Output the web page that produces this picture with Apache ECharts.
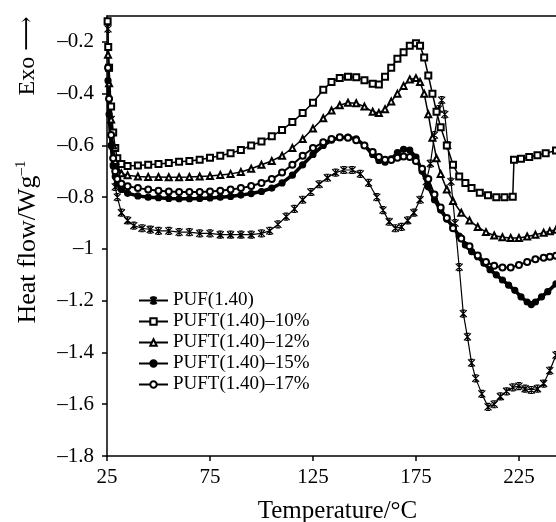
<!DOCTYPE html>
<html>
<head>
<meta charset="utf-8">
<script src="https://cdn.jsdelivr.net/npm/echarts@6/dist/echarts.min.js"></script>
<style>
  html, body { margin: 0; padding: 0; background: #fff; }
  #chart { width: 556px; height: 522px; }
</style>
</head>
<body>
<div id="chart"></div>
<script>
// 图例名称
const seriesNames = ['PUF(1.40)', 'PUFT(1.40)–10%', 'PUFT(1.40)–12%', 'PUFT(1.40)–15%', 'PUFT(1.40)–17%'];

// 各曲线数据 [温度 °C, 热流 W/g]
const puf = [[25.5,-0.15],[26,-0.3],[27,-0.5],[28,-0.66],[29,-0.76],[30,-0.8],[32,-0.86],[35,-0.89],[38,-0.91],[42,-0.92],[46,-0.925],[50,-0.93],[55,-0.93],[60,-0.935],[65,-0.935],[70,-0.94],[75,-0.94],[80,-0.945],[85,-0.945],[90,-0.945],[95,-0.945],[100,-0.94],[104,-0.93],[108,-0.905],[112,-0.875],[116,-0.845],[120,-0.81],[124,-0.78],[128,-0.75],[132,-0.725],[136,-0.705],[140,-0.695],[144,-0.695],[148,-0.71],[152,-0.745],[156,-0.8],[159,-0.85],[162,-0.895],[165,-0.92],[168,-0.915],[171,-0.89],[174,-0.86],[177,-0.81],[180,-0.74],[182,-0.67],[184,-0.56],[186,-0.46],[187.5,-0.425],[189,-0.48],[190.5,-0.6],[192,-0.74],[194,-0.9],[196,-1.07],[198,-1.25],[200,-1.34],[202,-1.44],[204,-1.5],[207,-1.56],[210,-1.61],[213,-1.6],[216,-1.57],[219,-1.55],[222,-1.535],[225,-1.53],[228,-1.54],[231,-1.545],[234,-1.54],[237,-1.52],[240,-1.47],[243,-1.41]];

const puft10 = [[25.3,-0.12],[25.6,-0.22],[26,-0.3],[27,-0.45],[28,-0.55],[29,-0.61],[30,-0.65],[32,-0.672],[35,-0.68],[40,-0.678],[45,-0.675],[50,-0.672],[55,-0.668],[60,-0.663],[65,-0.66],[70,-0.655],[75,-0.648],[80,-0.64],[85,-0.63],[90,-0.618],[95,-0.6],[100,-0.585],[105,-0.565],[110,-0.54],[115,-0.51],[120,-0.475],[125,-0.435],[130,-0.385],[134,-0.355],[138,-0.34],[142,-0.335],[146,-0.337],[150,-0.348],[154,-0.362],[157,-0.365],[160,-0.335],[163,-0.3],[166,-0.265],[169,-0.24],[172,-0.215],[175,-0.205],[177,-0.215],[179,-0.26],[181,-0.33],[183,-0.4],[185,-0.47],[187,-0.53],[190,-0.6],[193,-0.675],[196,-0.72],[199,-0.745],[202,-0.765],[206,-0.783],[210,-0.793],[214,-0.8],[218,-0.8],[222,-0.798],[222.6,-0.655],[226,-0.652],[230,-0.645],[234,-0.638],[238,-0.63],[243,-0.62]];

const puft12 = [[25.5,-0.25],[26,-0.36],[27,-0.5],[28,-0.6],[29,-0.66],[30,-0.69],[32,-0.708],[35,-0.715],[40,-0.72],[45,-0.722],[50,-0.722],[55,-0.723],[60,-0.723],[65,-0.722],[70,-0.72],[75,-0.718],[80,-0.714],[85,-0.71],[90,-0.703],[95,-0.69],[100,-0.675],[105,-0.66],[110,-0.64],[115,-0.61],[120,-0.575],[125,-0.535],[130,-0.495],[134,-0.465],[138,-0.445],[142,-0.435],[146,-0.437],[150,-0.45],[154,-0.47],[157,-0.475],[160,-0.46],[163,-0.43],[166,-0.4],[169,-0.37],[172,-0.345],[175,-0.34],[177,-0.355],[179,-0.4],[181,-0.48],[183,-0.57],[185,-0.65],[187,-0.71],[190,-0.77],[193,-0.815],[197,-0.86],[201,-0.89],[205,-0.915],[209,-0.935],[213,-0.948],[217,-0.955],[221,-0.958],[225,-0.958],[229,-0.952],[233,-0.945],[237,-0.937],[240,-0.932],[243,-0.926]];

const puft15 = [[25.5,-0.35],[26,-0.48],[27,-0.6],[28,-0.68],[29,-0.72],[30,-0.75],[32,-0.77],[35,-0.785],[40,-0.795],[45,-0.8],[50,-0.802],[55,-0.805],[60,-0.806],[65,-0.806],[70,-0.805],[75,-0.803],[80,-0.8],[85,-0.797],[90,-0.792],[95,-0.786],[100,-0.778],[105,-0.765],[110,-0.745],[115,-0.715],[120,-0.675],[125,-0.635],[130,-0.6],[134,-0.58],[138,-0.57],[142,-0.568],[146,-0.575],[150,-0.6],[154,-0.635],[157,-0.658],[160,-0.665],[163,-0.652],[166,-0.628],[169,-0.615],[172,-0.618],[175,-0.645],[178,-0.7],[181,-0.76],[184,-0.81],[187,-0.85],[190,-0.885],[193,-0.915],[196,-0.95],[199,-0.985],[202,-1.01],[205,-1.03],[208,-1.055],[211,-1.08],[214,-1.1],[217,-1.12],[220,-1.14],[223,-1.16],[226,-1.185],[229,-1.205],[231,-1.215],[233,-1.205],[236,-1.185],[239,-1.165],[243,-1.135]];

const puft17 = [[25.5,-0.3],[26,-0.42],[27,-0.56],[28,-0.65],[29,-0.7],[30,-0.73],[32,-0.748],[35,-0.758],[40,-0.765],[45,-0.77],[50,-0.775],[55,-0.778],[60,-0.78],[65,-0.78],[70,-0.78],[75,-0.778],[80,-0.775],[85,-0.77],[90,-0.765],[95,-0.757],[100,-0.745],[105,-0.73],[110,-0.705],[115,-0.675],[120,-0.64],[125,-0.61],[130,-0.588],[134,-0.575],[138,-0.568],[142,-0.57],[146,-0.58],[150,-0.6],[154,-0.625],[157,-0.645],[160,-0.655],[163,-0.656],[166,-0.648],[169,-0.643],[172,-0.645],[175,-0.66],[178,-0.69],[181,-0.73],[184,-0.79],[187,-0.84],[190,-0.88],[193,-0.92],[197,-0.96],[201,-0.99],[205,-1.025],[209,-1.05],[213,-1.065],[217,-1.072],[221,-1.072],[225,-1.062],[229,-1.05],[233,-1.04],[237,-1.034],[240,-1.03],[243,-1.026]];

// 坐标轴范围
const xMin = 25, xMax = 243, xStep = 50;
const yMin = -1.8, yMax = -0.1, yStep = 0.2;

const FONT = '"Liberation Serif", "DejaVu Serif", serif';

// 星形标记（× 加竖线和上下横线）
const starSymbol = 'path://M0,0L10,10M10,0L0,10M5,0L5,10M2,0L8,0M2,10L8,10';

const chart = echarts.init(document.getElementById('chart'), null, { renderer: 'canvas' });

function makeSeries(name, data, symbol, size, width, extra) {
  return Object.assign({
    name: name,
    type: 'line',
    data: data,
    symbol: symbol,
    symbolSize: size,
    showSymbol: true,
    showAllSymbol: true,
    lineStyle: { color: '#000', width: width },
    itemStyle: { color: '#000', borderColor: '#000', borderWidth: 1.2 },
    emphasis: { disabled: true },
    z: 3
  }, extra || {});
}

const option = {
  animation: false,
  backgroundColor: '#fff',
  grid: { left: 107, right: 0, top: 16, bottom: 66, containLabel: false, outerBoundsMode: 'none' },
  legend: {
    orient: 'vertical',
    left: 138,
    top: 291,
    padding: 0,
    itemWidth: 29,
    itemHeight: 8,
    itemGap: 2,
    textStyle: { fontFamily: FONT, fontSize: 19, lineHeight: 17, color: '#000' },
    data: seriesNames
  },
  xAxis: [{
    type: 'value',
    min: xMin,
    max: xMax,
    interval: xStep,
    name: 'Temperature/°C',
    nameLocation: 'middle',
    nameGap: 43,
    nameTextStyle: { fontFamily: FONT, fontSize: 25, color: '#000', padding: [0, 0, 0, 12] },
    axisLine: { show: true, lineStyle: { color: '#000', width: 1.5 } },
    axisTick: { show: true, length: 5, lineStyle: { color: '#000', width: 1.5 } },
    axisLabel: { fontFamily: FONT, fontSize: 21, color: '#000', margin: 11, showMaxLabel: false },
    splitLine: { show: false }
  }, {
    // 顶部边框线
    type: 'value',
    position: 'top',
    min: xMin,
    max: xMax,
    interval: xStep,
    axisLine: { show: true, lineStyle: { color: '#000', width: 1.5 } },
    axisTick: { show: false },
    axisLabel: { show: false },
    splitLine: { show: false }
  }],
  yAxis: {
    type: 'value',
    min: yMin,
    max: yMax,
    interval: yStep,
    axisLine: { show: true, lineStyle: { color: '#000', width: 1.5 } },
    axisTick: { show: true, length: 5, lineStyle: { color: '#000', width: 1.5 } },
    axisLabel: {
      fontFamily: FONT,
      fontSize: 21,
      color: '#000',
      margin: 13,
      showMaxLabel: false,
      formatter: function (v) {
        const r = Math.round(v * 10) / 10;
        return (r < 0 ? '–' : '') + Math.abs(r);
      }
    },
    splitLine: { show: false }
  },
  graphic: [
    {
      type: 'text',
      x: 28,
      y: 242,
      rotation: Math.PI / 2,
      style: {
        text: 'Heat flow/Wg{sup|–1}',
        fontFamily: FONT,
        fontSize: 26,
        fill: '#000',
        align: 'center',
        verticalAlign: 'middle',
        rich: {
          sup: { fontFamily: FONT, fontSize: 15, fill: '#000', padding: [0, 0, 14, 0] }
        }
      }
    },
    {
      type: 'text',
      x: 28,
      y: 56,
      rotation: Math.PI / 2,
      style: {
        text: 'Exo ⟶',
        fontFamily: FONT,
        fontSize: 24,
        fill: '#000',
        align: 'center',
        verticalAlign: 'middle'
      }
    }
  ],
  series: [
    makeSeries(seriesNames[0], puf, starSymbol, 7, 1.2, { itemStyle: { color: 'none', borderColor: '#000', borderWidth: 1.2 } }),
    makeSeries(seriesNames[1], puft10, 'emptyRect', 6, 1.5),
    makeSeries(seriesNames[2], puft12, 'emptyTriangle', 6, 1.5),
    makeSeries(seriesNames[3], puft15, 'circle', 6, 3.5),
    makeSeries(seriesNames[4], puft17, 'emptyCircle', 6, 2)
  ]
};

chart.setOption(option);
</script>
</body>
</html>
